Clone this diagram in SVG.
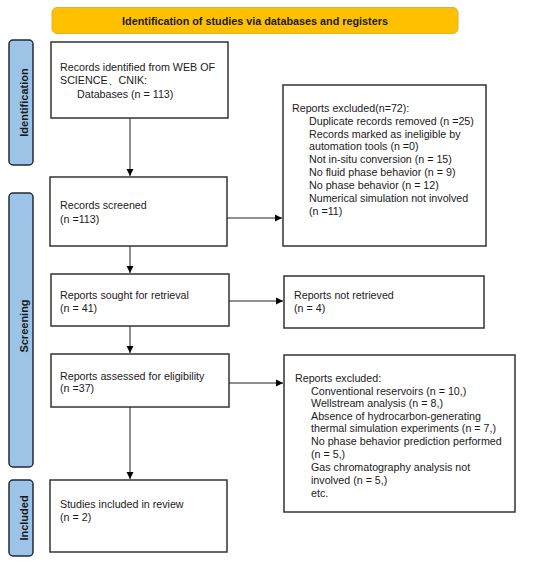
<svg xmlns="http://www.w3.org/2000/svg" width="550" height="563" viewBox="0 0 550 563">
<defs>
<marker id="arr" markerWidth="8" markerHeight="8" refX="7" refY="4" orient="auto" markerUnits="userSpaceOnUse">
<path d="M0,0.5 L7,4 L0,7.5 Z" fill="#000"/>
</marker>
</defs>
<style>
.box{fill:#fff;stroke:#333;stroke-width:1.5}
.lbl{fill:#9DC3E6;stroke:#1F2B38;stroke-width:1.5}
.t{font-family:"Liberation Sans",Arial,sans-serif;font-size:10.7px;fill:#1a1a1a}
.b{font-family:"Liberation Sans",Arial,sans-serif;font-size:10.8px;font-weight:bold;fill:#1a1a1a}
.v{font-family:"Liberation Sans",Arial,sans-serif;font-size:11px;font-weight:bold;fill:#1a1a1a}
.c{stroke:#222;stroke-width:1;fill:none}
</style>
<rect width="550" height="563" fill="#fff"/>
<g id="banner">
<rect x="52" y="7.5" width="406" height="26" rx="5" fill="#FFC000" stroke="#E0B030" stroke-width="1"/>
<text class="b" x="255" y="24.5" text-anchor="middle">Identification of studies via databases and registers</text>
</g>
<g id="label-identification">
<rect class="lbl" x="9" y="40" width="24" height="125" rx="4"/>
<text class="v" transform="translate(27.5,102.5) rotate(-90)" text-anchor="middle">Identification</text>
</g>
<g id="label-screening">
<rect class="lbl" x="9" y="193" width="24" height="274" rx="4"/>
<text class="v" transform="translate(27.5,326) rotate(-90)" text-anchor="middle">Screening</text>
</g>
<g id="label-included">
<rect class="lbl" x="9" y="480" width="24" height="76" rx="4"/>
<text class="v" transform="translate(27.5,518) rotate(-90)" text-anchor="middle">Included</text>
</g>
<g id="records-identified">
<rect class="box" x="51" y="42" width="177" height="76"/>
<text class="t" x="60" y="70.5">Records identified from WEB OF</text>
<text class="t" x="60" y="83.5">SCIENCE、CNIK:</text>
<text class="t" x="77" y="97.5">Databases (n = 113)</text>
</g>
<g id="excluded-1">
<rect class="box" x="283" y="85" width="203" height="161"/>
<text class="t" x="292" y="111.5">Reports excluded(n=72):</text>
<text class="t" x="309" y="124.5">Duplicate records removed (n =25)</text>
<text class="t" x="309" y="137.5">Records marked as ineligible by</text>
<text class="t" x="309" y="150">automation tools (n =0)</text>
<text class="t" x="309" y="163">Not in-situ conversion (n = 15)</text>
<text class="t" x="309" y="176">No fluid phase behavior (n = 9)</text>
<text class="t" x="309" y="189">No phase behavior (n = 12)</text>
<text class="t" x="309" y="202">Numerical simulation not involved</text>
<text class="t" x="309" y="215">(n =11)</text>
</g>
<g id="records-screened">
<rect class="box" x="50" y="177" width="177" height="69"/>
<text class="t" x="60" y="208.5">Records screened</text>
<text class="t" x="60" y="222.5">(n =113)</text>
</g>
<g id="sought">
<rect class="box" x="51" y="274" width="178" height="52"/>
<text class="t" x="60" y="298.5">Reports sought for retrieval</text>
<text class="t" x="60" y="311.5">(n = 41)</text>
</g>
<g id="not-retrieved">
<rect class="box" x="284" y="276" width="200" height="52"/>
<text class="t" x="294" y="298.5">Reports not retrieved</text>
<text class="t" x="294" y="311.5">(n = 4)</text>
</g>
<g id="assessed">
<rect class="box" x="51" y="354" width="178" height="53"/>
<text class="t" x="60" y="379.5">Reports assessed for eligibility</text>
<text class="t" x="60" y="392">(n =37)</text>
</g>
<g id="excluded-2">
<rect class="box" x="284" y="355" width="231" height="157"/>
<text class="t" x="295" y="381.5">Reports excluded:</text>
<text class="t" x="311" y="394.5">Conventional reservoirs (n = 10,)</text>
<text class="t" x="311" y="407">Wellstream analysis (n = 8,)</text>
<text class="t" x="311" y="420">Absence of hydrocarbon-generating</text>
<text class="t" x="311" y="431.5">thermal simulation experiments (n = 7,)</text>
<text class="t" x="311" y="444.5">No phase behavior prediction performed</text>
<text class="t" x="311" y="457.5">(n = 5,)</text>
<text class="t" x="311" y="470.5">Gas chromatography analysis not</text>
<text class="t" x="311" y="484">involved (n = 5,)</text>
<text class="t" x="311" y="496.5">etc.</text>
</g>
<g id="included">
<rect class="box" x="50" y="480" width="177" height="72"/>
<text class="t" x="60" y="507.5">Studies included in review</text>
<text class="t" x="60" y="520.5">(n = 2)</text>
</g>
<g id="connectors">
<line class="c" x1="130" y1="118" x2="130" y2="176" marker-end="url(#arr)"/>
<line class="c" x1="227" y1="218" x2="282" y2="218" marker-end="url(#arr)"/>
<line class="c" x1="130" y1="246" x2="130" y2="273" marker-end="url(#arr)"/>
<line class="c" x1="229" y1="301" x2="283" y2="301" marker-end="url(#arr)"/>
<line class="c" x1="130" y1="326" x2="130" y2="353" marker-end="url(#arr)"/>
<line class="c" x1="229" y1="383" x2="283" y2="383" marker-end="url(#arr)"/>
<line class="c" x1="130" y1="407" x2="130" y2="479" marker-end="url(#arr)"/>
</g>
</svg>
